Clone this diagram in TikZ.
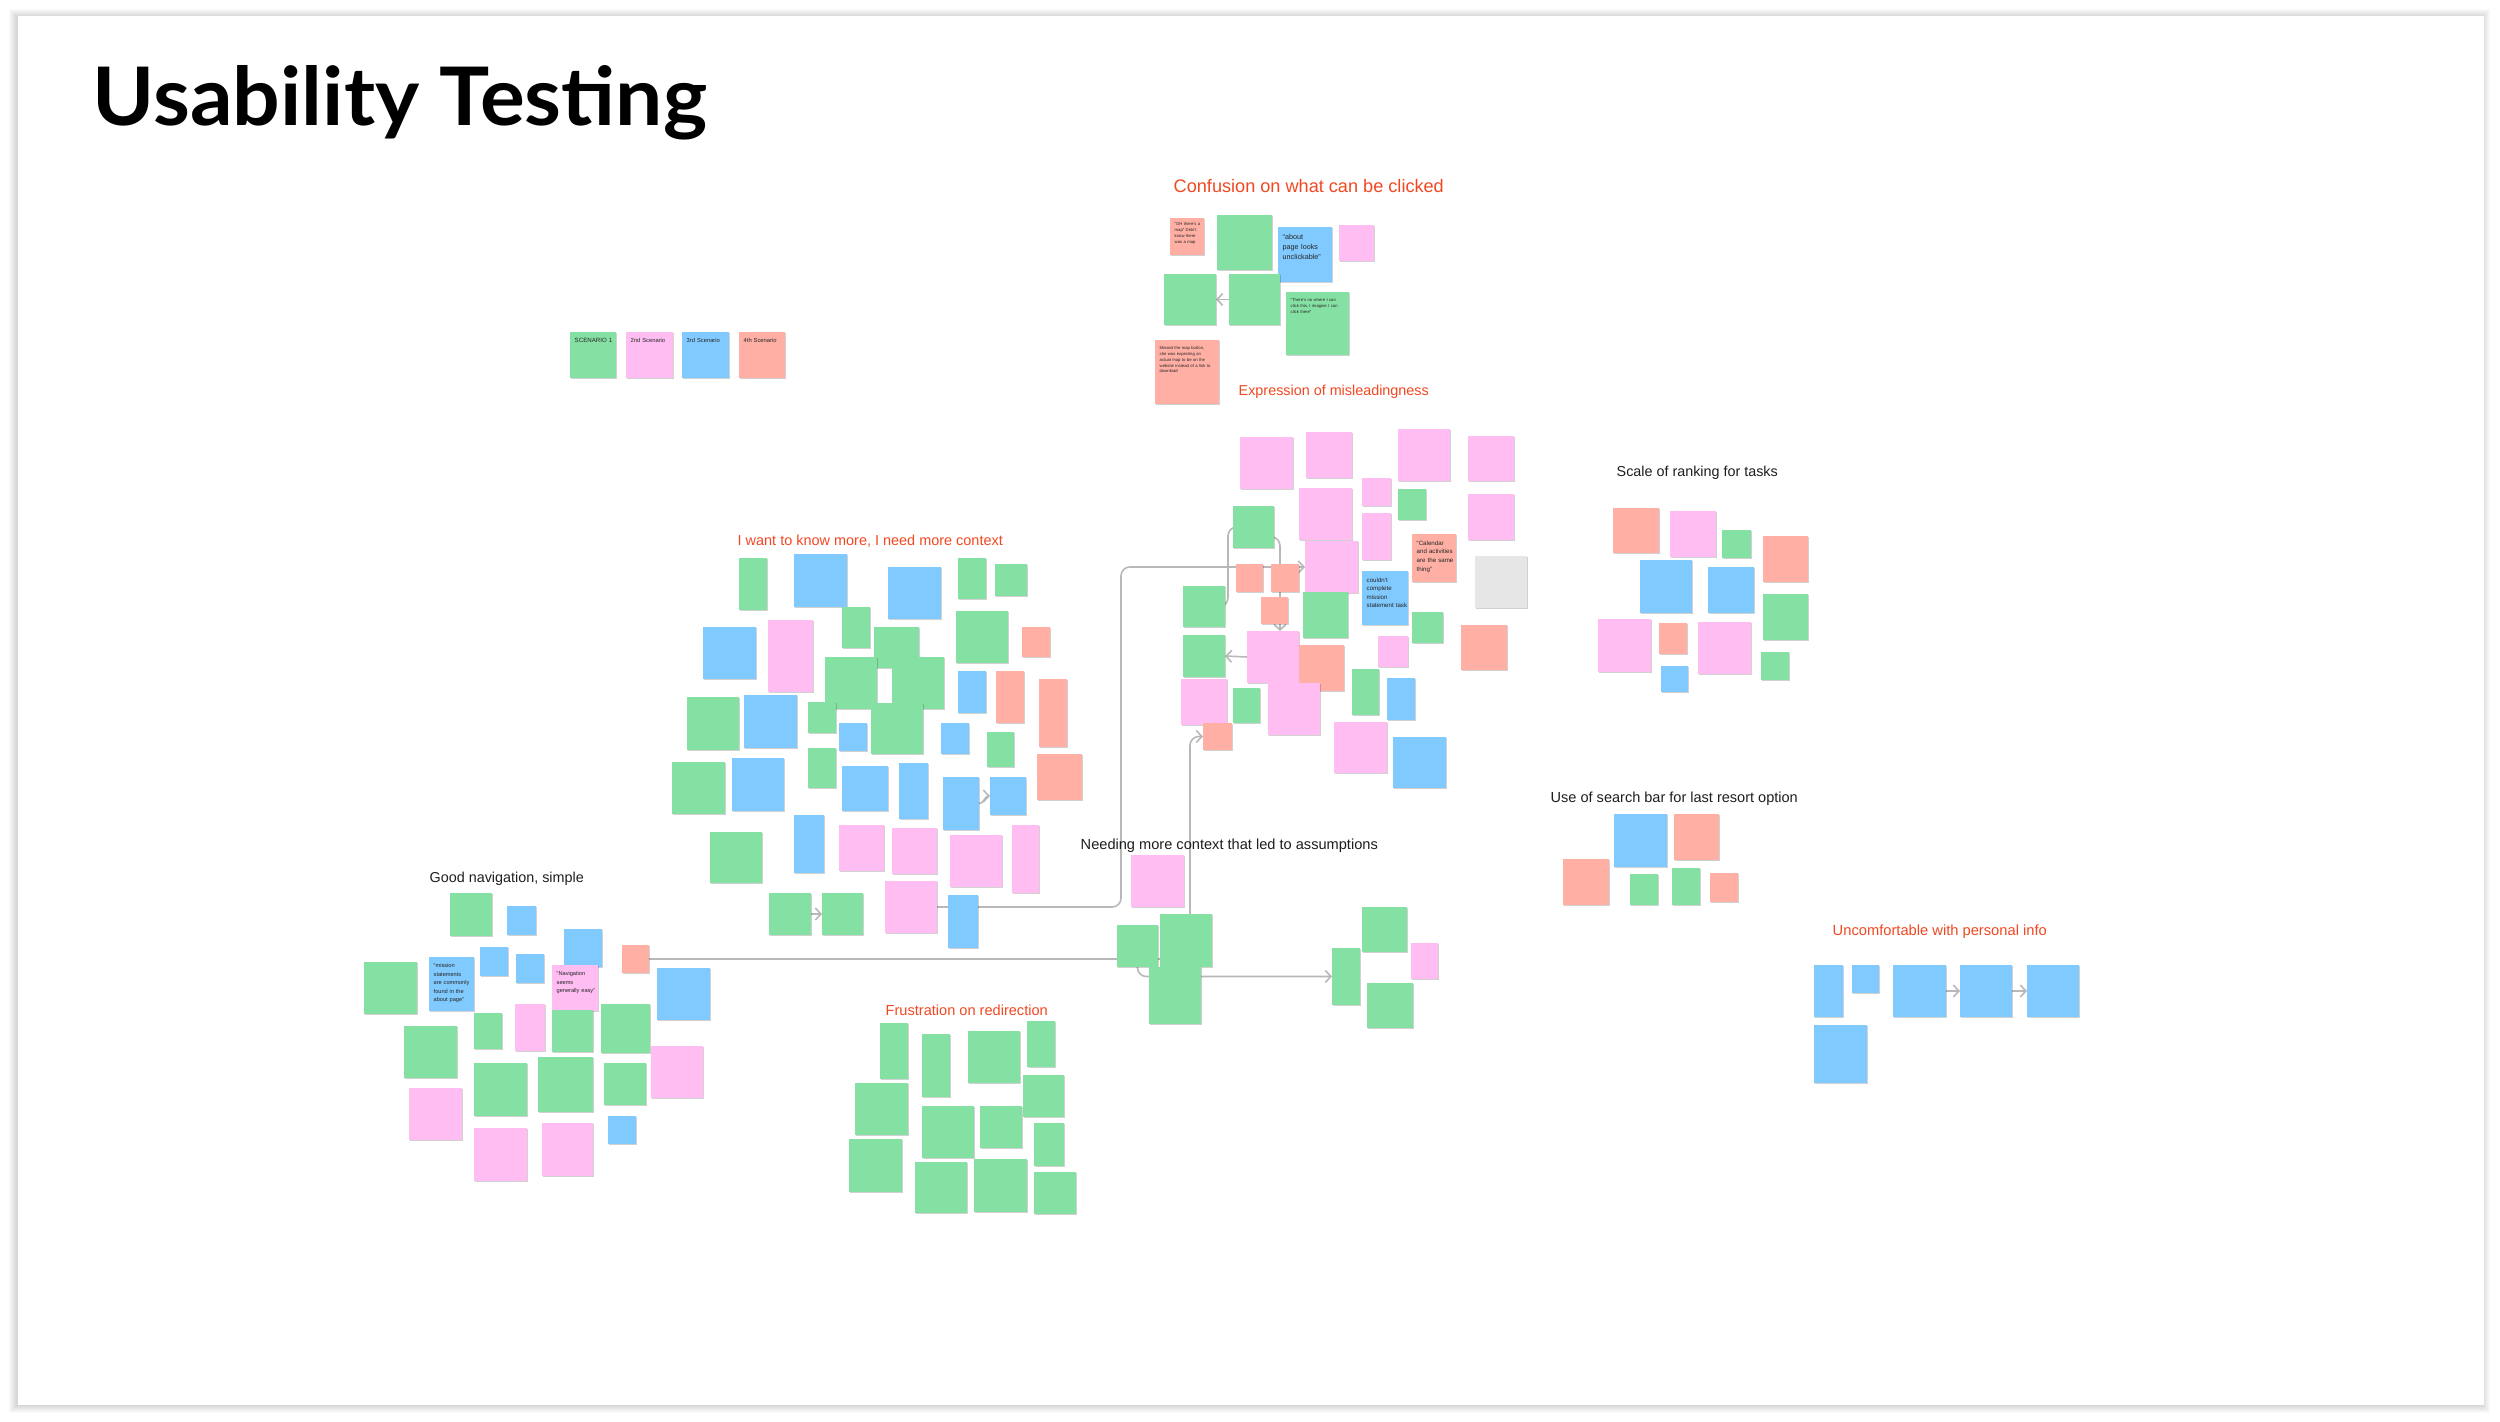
\documentclass[tikz,border=0pt]{standalone}
\usepackage{fontspec}
\setmainfont{Liberation Sans}
\newfontfamily\titlefont{Lato}
\usetikzlibrary{shadows,arrows.meta,calc}
\pgfdeclarelayer{back}
\pgfdeclarelayer{bg}
\pgfsetlayers{back,bg,main}
\definecolor{sg}{HTML}{85E0A3}
\definecolor{sp}{HTML}{FFBDF2}
\definecolor{sb}{HTML}{80CAFF}
\definecolor{sr}{HTML}{FFAFA3}
\definecolor{sy}{HTML}{E6E6E6}
\definecolor{lblred}{HTML}{F24822}
\definecolor{lblblk}{HTML}{1E1E1E}
\definecolor{conncol}{HTML}{B8B8B8}
\tikzset{
  note/.style={anchor=north west,inner sep=0pt,outer sep=0pt,draw=none,
    drop shadow={shadow xshift=0.3pt,shadow yshift=-0.4pt,opacity=0.18,fill=black}},
  ntext/.style={anchor=north west,inner sep=0pt,align=left,text=black!85},
  lbl/.style={anchor=base west,inner sep=0pt},
  conn/.style={draw=conncol,line width=0.45pt,rounded corners=2.5pt,-{Straight Barb[length=1.6pt,width=3.4pt]}}
}
\newcommand\nt[6]{\node[note,fill=#2,minimum width={(#5-#3)*0.01cm},minimum height={(#6-#4)*0.01cm}] (#1) at (#3,#4) {};}
\newcommand\ntx[5][4]{\node[ntext,font=#3,text width=#4] at ([shift={(4,#1)}]#2.north west) {#5};}
\newcommand\smalltxt{\fontsize{1.2}{1.65}\selectfont}
\begin{document}
\hyphenpenalty=10000 \exhyphenpenalty=10000
\begin{tikzpicture}[x=0.01cm,y=-0.01cm]
\useasboundingbox (0,0) rectangle (2500,1422);
\begin{pgfonlayer}{back}
\fill[white] (0,0) rectangle (2500,1422);
\foreach \d in {1,2,...,8}{\fill[black,opacity=0.018] (17-\d,15-\d+2) rectangle (2482+\d,1403+\d+2);}
\node[anchor=north west,inner sep=0pt,fill=white,minimum width=24.65cm,minimum height=13.88cm] (card) at (17,15) {};
\end{pgfonlayer}

% title
\node[lbl] (title) at (92,126) {\resizebox{6.14cm}{0.60cm}{\titlefont\bfseries Usability Testing}};

% cluster labels
\node[lbl,text=lblred] (lconf) at (1173,193) {\resizebox{2.70cm}{!}{Confusion on what can be clicked}};
\node[lbl,text=lblred] (lmis) at (1238,396) {\resizebox{1.90cm}{!}{Expression of misleadingness}};
\node[lbl,text=lblblk] (lscale) at (1616,477) {\resizebox{1.61cm}{!}{Scale of ranking for tasks}};
\node[lbl,text=lblred] (lwant) at (737,546) {\resizebox{2.65cm}{!}{I want to know more, I need more context}};
\node[lbl,text=lblblk] (lsearch) at (1550,802) {\resizebox{2.47cm}{!}{Use of search bar for last resort option}};
\node[lbl,text=lblblk] (lneed) at (1080,849) {\resizebox{2.97cm}{!}{Needing more context that led to assumptions}};
\node[lbl,text=lblblk] (lgood) at (429,882) {\resizebox{1.54cm}{!}{Good navigation, simple}};
\node[lbl,text=lblred] (lunc) at (1832,935) {\resizebox{2.14cm}{!}{Uncomfortable with personal info}};
\node[lbl,text=lblred] (lfru) at (885,1015) {\resizebox{1.62cm}{!}{Frustration on redirection}};

\coordinate (k1) at (1121,907);
\coordinate (k2) at (1190,959);
\coordinate (k3) at (1228,606.5);
\coordinate (k5) at (1280,537);

% scenario
\nt{s1}{sg}{570}{332}{616}{378}
\nt{s2}{sp}{626}{332}{673}{378}
\nt{s3}{sb}{682}{332}{729}{378}
\nt{s4}{sr}{739}{332}{785}{378}
\ntx[6]{s1}{\fontsize{1.75}{2.3}\selectfont}{0.42cm}{SCENARIO 1}
\ntx[6]{s2}{\fontsize{1.65}{2.3}\selectfont}{0.42cm}{2nd Scenario}
\ntx[6]{s3}{\fontsize{1.65}{2.3}\selectfont}{0.42cm}{3rd Scenario}
\ntx[6]{s4}{\fontsize{1.65}{2.3}\selectfont}{0.42cm}{4th Scenario}

% confusion
\nt{c1}{sr}{1170}{218}{1204}{255}
\nt{c2}{sg}{1217}{215}{1272}{270}
\nt{c3}{sb}{1278}{227}{1332}{282}
\nt{c4}{sp}{1339}{225}{1374}{261}
\nt{c5}{sg}{1164}{274}{1216}{325}
\nt{c6}{sg}{1229}{274}{1280}{325}
\nt{c7}{sg}{1286}{292}{1349}{355}
\nt{c8}{sr}{1155}{340}{1219}{404}
\ntx{c1}{\smalltxt}{0.27cm}{``OH there's a map'' Didn't know there was a map}
\ntx[7]{c3}{\fontsize{2.05}{2.85}\selectfont}{0.42cm}{``about page looks unclickable''}
\ntx[6]{c7}{\smalltxt}{0.52cm}{``There's no where I can click this, I imagine I can click there''}
\ntx[6]{c8}{\smalltxt}{0.54cm}{Missed the map button, she was expecting an actual map to be on the website instead of a link to download}

% misleadingness
\nt{m1}{sp}{1240}{437}{1293}{489}
\nt{m2}{sp}{1306}{432}{1352}{478}
\nt{m3}{sp}{1398}{429}{1450}{481}
\nt{m4}{sp}{1468}{436}{1514}{481}
\nt{m5}{sp}{1362}{478}{1391}{506}
\nt{m6}{sg}{1398}{489}{1426}{520}
\nt{m7}{sp}{1299}{488}{1352}{540}
\nt{m8}{sp}{1468}{494}{1514}{540}
\nt{m9}{sg}{1233}{506}{1274}{548}
\nt{m10}{sp}{1362}{513}{1391}{560}
\nt{m11}{sp}{1305}{541}{1358}{593}
\nt{m12}{sr}{1412}{534}{1456}{582}
\nt{m13}{sy}{1475}{556}{1527}{608}
\nt{m14}{sr}{1236}{564}{1263}{592}
\nt{m15}{sr}{1271}{564}{1299}{592}
\nt{m16}{sb}{1362}{571}{1408}{625}
\nt{m17}{sg}{1183}{586}{1225}{627}
\nt{m18}{sr}{1261}{597}{1288}{624}
\nt{m19}{sg}{1303}{592}{1348}{638}
\nt{m20}{sg}{1412}{612}{1443}{643}
\nt{m21}{sr}{1461}{625}{1507}{670}
\nt{m22}{sg}{1183}{635}{1225}{677}
\nt{m23}{sp}{1247}{631}{1299}{683}
\nt{m24}{sr}{1299}{645}{1344}{691}
\nt{m25}{sp}{1378}{636}{1408}{667}
\nt{m26}{sp}{1181}{679}{1227}{725}
\nt{m27}{sg}{1233}{688}{1260}{723}
\nt{m28}{sp}{1268}{683}{1320}{735}
\nt{m29}{sg}{1352}{669}{1379}{715}
\nt{m30}{sb}{1387}{678}{1415}{720}
\nt{m31}{sr}{1203}{723}{1232}{750}
\nt{m32}{sp}{1334}{722}{1387}{773}
\nt{m33}{sb}{1393}{737}{1446}{788}
\ntx[6]{m12}{\fontsize{1.75}{2.45}\selectfont}{0.40cm}{``Calendar and activities are the same thing''}
\ntx[6]{m16}{\fontsize{1.75}{2.4}\selectfont}{0.42cm}{couldn't complete mission statement task}

% scale of ranking
\nt{r1}{sr}{1613}{508}{1659}{553}
\nt{r2}{sp}{1670}{511}{1716}{557}
\nt{r3}{sg}{1722}{530}{1751}{558}
\nt{r4}{sr}{1763}{536}{1808}{582}
\nt{r5}{sb}{1640}{560}{1692}{613}
\nt{r6}{sb}{1708}{567}{1754}{613}
\nt{r7}{sg}{1763}{594}{1808}{640}
\nt{r8}{sp}{1598}{619}{1651}{672}
\nt{r9}{sr}{1659}{623}{1687}{654}
\nt{r10}{sp}{1698}{622}{1751}{674}
\nt{r11}{sg}{1761}{652}{1789}{680}
\nt{r12}{sb}{1661}{666}{1688}{692}

% search bar
\nt{q1}{sb}{1614}{814}{1667}{867}
\nt{q2}{sr}{1674}{814}{1719}{860}
\nt{q3}{sr}{1563}{859}{1609}{905}
\nt{q4}{sg}{1630}{874}{1658}{905}
\nt{q5}{sg}{1672}{868}{1700}{905}
\nt{q6}{sr}{1710}{873}{1738}{902}

% uncomfortable
\nt{u1}{sb}{1814}{965}{1843}{1017}
\nt{u2}{sb}{1852}{965}{1879}{993}
\nt{u3}{sb}{1893}{965}{1946}{1017}
\nt{u4}{sb}{1960}{965}{2012}{1017}
\nt{u5}{sb}{2027}{965}{2079}{1017}
\nt{u6}{sb}{1814}{1025}{1867}{1083}

% needing more context
\nt{a1}{sp}{1131}{855}{1184}{907}
\nt{a2}{sg}{1117}{925}{1158}{967}
\nt{a3}{sg}{1160}{914}{1212}{967}
\nt{a4}{sg}{1149}{967}{1201}{1024}
\nt{a5}{sg}{1332}{948}{1360}{1005}
\nt{a6}{sg}{1362}{907}{1407}{952}
\nt{a7}{sp}{1411}{943}{1438}{979}
\nt{a8}{sg}{1367}{983}{1413}{1028}

% frustration
\nt{f1}{sg}{880}{1023}{908}{1079}
\nt{f2}{sg}{922}{1034}{950}{1097}
\nt{f3}{sg}{968}{1031}{1020}{1083}
\nt{f4}{sg}{1027}{1021}{1055}{1067}
\nt{f5}{sg}{855}{1083}{908}{1135}
\nt{f6}{sg}{1023}{1075}{1064}{1117}
\nt{f7}{sg}{922}{1106}{974}{1158}
\nt{f8}{sg}{980}{1106}{1022}{1148}
\nt{f9}{sg}{1034}{1123}{1064}{1166}
\nt{f10}{sg}{849}{1139}{902}{1192}
\nt{f11}{sg}{915}{1162}{967}{1213}
\nt{f12}{sg}{974}{1159}{1027}{1212}
\nt{f13}{sg}{1034}{1172}{1076}{1214}

% good navigation
\nt{g1}{sg}{450}{893}{492}{936}
\nt{g2}{sb}{507}{906}{536}{935}
\nt{g3}{sb}{564}{929}{602}{967}
\nt{g4}{sr}{622}{945}{649}{973}
\nt{g5}{sg}{364}{962}{417}{1014}
\nt{g6}{sb}{429}{957}{474}{1011}
\nt{g7}{sb}{480}{947}{508}{976}
\nt{g8}{sb}{516}{954}{544}{983}
\nt{g9}{sp}{552}{965}{598}{1011}
\nt{g10}{sb}{657}{968}{710}{1020}
\nt{g11}{sg}{474}{1013}{502}{1049}
\nt{g12}{sp}{515}{1004}{545}{1051}
\nt{g13}{sg}{552}{1010}{593}{1052}
\nt{g14}{sg}{601}{1004}{650}{1053}
\nt{g15}{sg}{404}{1026}{457}{1078}
\nt{g16}{sp}{651}{1046}{703}{1098}
\nt{g17}{sg}{474}{1063}{527}{1116}
\nt{g18}{sg}{538}{1057}{593}{1112}
\nt{g19}{sg}{604}{1063}{646}{1105}
\nt{g20}{sp}{409}{1088}{462}{1140}
\nt{g21}{sb}{608}{1116}{636}{1144}
\nt{g22}{sp}{474}{1128}{527}{1181}
\nt{g23}{sp}{542}{1123}{593}{1176}
\ntx[6]{g6}{\fontsize{1.6}{2.4}\selectfont}{0.40cm}{``mission statements are commonly found in the about page''}
\ntx[6]{g9}{\fontsize{1.6}{2.4}\selectfont}{0.40cm}{``Navigation seems generally easy''}

% I want to know more
\nt{w1}{sg}{739}{558}{767}{610}
\nt{w2}{sb}{794}{554}{847}{607}
\nt{w3}{sb}{888}{567}{941}{619}
\nt{w4}{sg}{958}{558}{986}{599}
\nt{w5}{sg}{995}{564}{1027}{596}
\nt{w6}{sb}{703}{627}{756}{679}
\nt{w7}{sp}{768}{620}{813}{692}
\nt{w8}{sg}{842}{607}{870}{648}
\nt{w9}{sg}{874}{627}{919}{668}
\nt{w10}{sg}{956}{611}{1008}{663}
\nt{w11}{sr}{1022}{627}{1050}{657}
\nt{w12}{sg}{825}{657}{877}{709}
\nt{w13}{sg}{892}{657}{944}{709}
\nt{w14}{sg}{871}{703}{923}{754}
\nt{w15}{sb}{958}{671}{986}{713}
\nt{w16}{sr}{996}{671}{1024}{723}
\nt{w17}{sr}{1039}{679}{1067}{747}
\nt{w18}{sg}{687}{697}{739}{750}
\nt{w19}{sb}{744}{695}{797}{748}
\nt{w20}{sg}{808}{702}{836}{733}
\nt{w21}{sb}{839}{723}{867}{751}
\nt{w22}{sb}{941}{723}{969}{754}
\nt{w23}{sg}{987}{732}{1014}{767}
\nt{w24}{sg}{808}{748}{836}{788}
\nt{w25}{sg}{672}{762}{725}{814}
\nt{w26}{sb}{732}{758}{784}{811}
\nt{w27}{sb}{842}{766}{888}{811}
\nt{w28}{sb}{899}{763}{928}{819}
\nt{w29}{sb}{943}{777}{979}{830}
\nt{w30}{sb}{990}{777}{1026}{815}
\nt{w31}{sr}{1037}{754}{1082}{800}
\nt{w32}{sg}{710}{832}{762}{883}
\nt{w33}{sb}{794}{815}{824}{873}
\nt{w34}{sp}{839}{825}{884}{871}
\nt{w35}{sp}{892}{828}{937}{874}
\nt{w36}{sp}{950}{835}{1002}{887}
\nt{w37}{sp}{1012}{825}{1039}{893}
\nt{w38}{sg}{769}{893}{811}{935}
\nt{w39}{sg}{822}{893}{863}{935}
\nt{w40}{sp}{885}{881}{937}{933}
\nt{w41}{sb}{948}{895}{978}{948}

% connectors, behind the notes
\begin{pgfonlayer}{bg}
\draw[conn] (w40.east) -- (k1) |- (m11.west);
\draw[conn] (g4.east) -- (k2) |- (m31.west);
\draw[conn] (m17.east) -- (k3) |- (m9.west);
\draw[conn] (m9.east |- k5) -- (k5) -- (k5 |- m23.north);
\draw[conn] (m23.west) -- (m22.east);
\draw[conn] (w29.east) to[out=0,in=180] (w30.west);
\draw[conn] (w38.east) -- (w39.west);
\draw[conn] (a2.south) |- (a5.west);
\draw[conn] (c6.west) -- (c5.east);
\draw[conn] (u3.east) -- (u4.west);
\draw[conn] (u4.east) -- (u5.west);
\end{pgfonlayer}
\end{tikzpicture}
\end{document}
